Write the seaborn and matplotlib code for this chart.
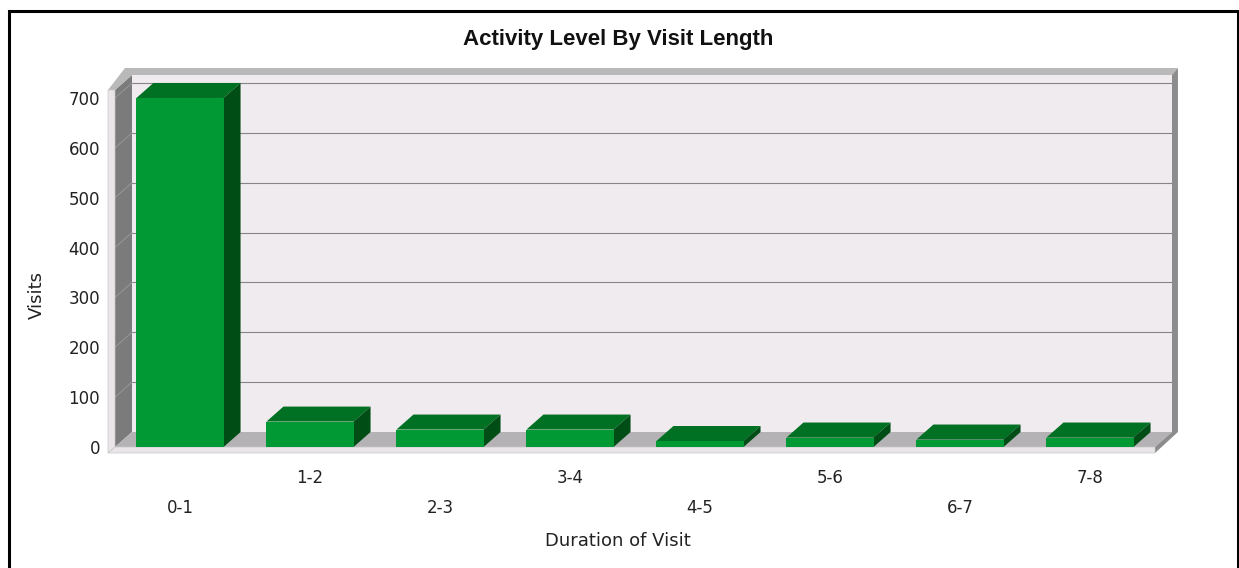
import numpy as np
import pandas as pd
import matplotlib
matplotlib.use("Agg")
import matplotlib.pyplot as plt
import seaborn as sns
from matplotlib.patches import Polygon, Rectangle
from matplotlib.transforms import blended_transform_factory, ScaledTranslation

# ---- data ----
categories = ["0-1", "1-2", "2-3", "3-4", "4-5", "5-6", "6-7", "7-8"]
visits = [700, 51, 35, 35, 12, 19, 15, 19]
y_ticks = [0, 100, 200, 300, 400, 500, 600, 700]

title = "Activity Level By Visit Length"
x_label = "Duration of Visit"
y_label = "Visits"

sns.set_style("white")
plt.rcParams["font.family"] = ["DejaVu Sans"]

W, H = 1239, 568
fig = plt.figure(figsize=(W / 100, H / 100), dpi=100)
fig.patch.set_facecolor("white")

# axes = front plane of the 3D box
ax_left, ax_right, ax_bottom, ax_top = 115, 1155, 447, 90
ax = fig.add_axes([ax_left / W, (H - ax_bottom) / H,
                   (ax_right - ax_left) / W, (ax_bottom - ax_top) / H])
ax.set_facecolor("none")

df = pd.DataFrame({"duration": categories, "visits": visits})
sns.barplot(data=df, x="duration", y="visits", color="#009933",
            saturation=1, width=0.67, ax=ax, zorder=3, linewidth=0)

xl, xr = -0.5, len(categories) - 0.5
yb, yt = 0, 716
ax.set_xlim(xl, xr)
ax.set_ylim(yb, yt)

# pixel -> data unit conversions
ppx = (ax_right - ax_left) / (xr - xl)          # px per x unit
upy = (yt - yb) / (ax_bottom - ax_top)          # y units per px
DX, DY = 17 / ppx, 15 * upy                     # 3D depth
TX, TY = 7 / ppx, 7 * upy                       # wall thickness
TB = 6 * upy

def poly(pts, fc, z, ec="none", lw=0):
    ax.add_patch(Polygon(pts, closed=True, facecolor=fc, edgecolor=ec,
                         linewidth=lw, zorder=z, clip_on=False))

# back wall
poly([(xl + DX, DY), (xr + DX, DY), (xr + DX, yt + DY), (xl + DX, yt + DY)], "#EFEBEF", 0.2)
# back-wall gridlines and left-wall guide lines
for v in y_ticks[1:]:
    ax.plot([xl + DX, xr + DX], [v + DY, v + DY], color="#858585", lw=0.8,
            zorder=0.5, clip_on=False)
# left wall
poly([(xl, yb), (xl + DX, DY), (xl + DX, yt + DY), (xl, yt)], "#7B7B7B", 0.6)
for v in y_ticks[1:]:
    ax.plot([xl, xl + DX], [v, v + DY], color="#9C9C9C", lw=0.6,
            zorder=0.7, clip_on=False)
# floor
poly([(xl, yb), (xr, yb), (xr + DX, DY), (xl + DX, DY)], "#B4B2B4", 0.6)
# top band
poly([(xl - TX, yt), (xl, yt), (xl + DX, yt + DY), (xr + DX, yt + DY),
      (xr + DX + TX * 0.85, yt + DY + TY), (xl + DX - TX, yt + DY + TY)], "#B9B9B9", 0.8)
# right band
poly([(xr + DX, yt + DY), (xr + DX + TX * 0.85, yt + DY + TY),
      (xr + DX + TX * 0.85, DY), (xr, yb - TB), (xr, yb), (xr + DX, DY)], "#8C8C8C", 0.8)
# front edge strips
poly([(xl - TX, yt), (xl, yt), (xl, yb), (xl - TX, yb - TB)], "#E9E5E9", 0.8, ec="#C8C8C8", lw=0.5)
poly([(xl - TX, yb - TB), (xl, yb), (xr, yb), (xr, yb - TB)], "#E9E5E9", 0.8, ec="#C8C8C8", lw=0.5)

# 3D faces of bars
for p in ax.patches[:]:
    if not isinstance(p, Rectangle):
        continue
    x0, w, h = p.get_x(), p.get_width(), p.get_height()
    x1 = x0 + w
    poly([(x0, h), (x1, h), (x1 + DX, h + DY), (x0 + DX, h + DY)], "#007022", 2.8)
    poly([(x1, 0), (x1, h), (x1 + DX, h + DY), (x1 + DX, DY)], "#004E16", 2.8)

for s in ax.spines.values():
    s.set_visible(False)

ax.set_yticks(y_ticks)
ax.set_yticklabels([str(v) for v in y_ticks])
ax.tick_params(axis="y", length=5.8, width=0.8, color="#808080", pad=5,
               labelsize=12, labelcolor="#222222")
ax.set_xticks(range(len(categories)))
ax.set_xticklabels([])
ax.tick_params(axis="x", length=7.2, width=0.8, color="#808080", pad=0)
ax.set_xlabel("")
ax.set_ylabel("")

# alternating category labels
bt = blended_transform_factory(ax.transData, ax.transAxes)
for i, c in enumerate(categories):
    off = 31 if i % 2 == 1 else 61
    ax.text(i, 0, c, transform=bt + ScaledTranslation(0, -off / 100, fig.dpi_scale_trans),
            ha="center", va="center", fontsize=12, color="#222222")

fig.text(618 / W, 1 - 40 / H, title, ha="center", va="center", fontsize=16,
         fontweight="bold", family=["Liberation Sans", "DejaVu Sans"], color="#111111")
fig.text(618 / W, 1 - 541 / H, x_label, ha="center", va="center", fontsize=13, color="#222222")
fig.text(37 / W, 1 - 295 / H, y_label, ha="center", va="center", fontsize=13,
         rotation=90, color="#222222")

# outer frame
fig.patches.append(Rectangle((8.5 / W, -0.05), (1237.5 - 8.5) / W, 1.05 - 10.5 / H,
                             transform=fig.transFigure, fill=False, edgecolor="black",
                             linewidth=2.2, zorder=10))

fig.savefig("out.png", dpi=100)
